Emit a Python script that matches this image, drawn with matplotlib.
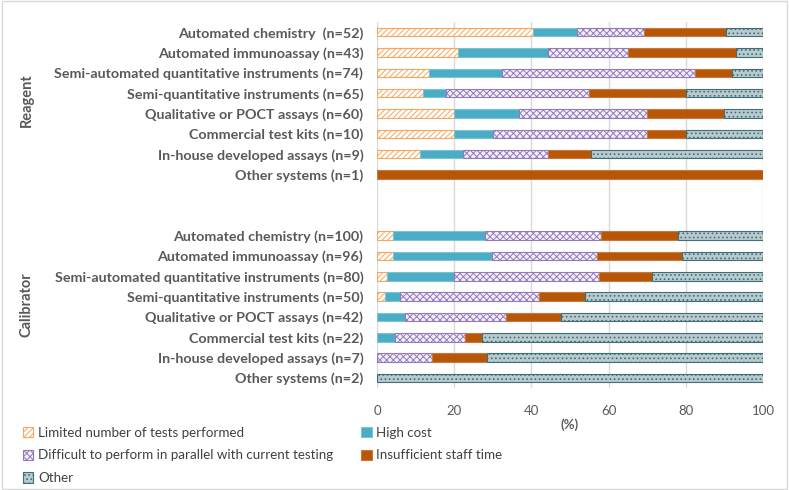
import matplotlib.pyplot as plt
import numpy as np
from matplotlib.patches import Rectangle

plt.rcParams['font.family'] = ['Lato', 'DejaVu Sans']
plt.rcParams['hatch.linewidth'] = 0.7

reagent_labels = ["Automated chemistry  (n=52)", "Automated immunoassay (n=43)",
                  "Semi-automated quantitative instruments (n=74)",
                  "Semi-quantitative instruments (n=65)", "Qualitative or POCT assays (n=60)",
                  "Commercial test kits (n=10)", "In-house developed assays (n=9)",
                  "Other systems (n=1)"]
calibrator_labels = ["Automated chemistry (n=100)", "Automated immunoassay (n=96)",
                     "Semi-automated quantitative instruments (n=80)",
                     "Semi-quantitative instruments (n=50)", "Qualitative or POCT assays (n=42)",
                     "Commercial test kits (n=22)", "In-house developed assays (n=7)",
                     "Other systems (n=2)"]

series_names = ["Limited number of tests performed", "High cost",
                "Difficult to perform in parallel with current testing",
                "Insufficient staff time", "Other"]

# percentages per reason, rows in label order
reagent_limited = [40.4, 20.9, 13.5, 11.8, 20.0, 20.0, 11.1, 0]
reagent_cost = [11.5, 23.3, 18.9, 6.1, 16.7, 10.0, 11.1, 0]
reagent_parallel = [17.3, 20.9, 50.0, 36.9, 33.3, 40.0, 22.2, 0]
reagent_staff = [21.2, 27.9, 9.5, 25.2, 20.0, 10.0, 11.1, 100]
reagent_other = [9.6, 7.0, 8.1, 20.0, 10.0, 20.0, 44.5, 0]

calib_limited = [4.0, 4.2, 2.5, 2.0, 0, 0, 0, 0]
calib_cost = [24.0, 25.6, 17.5, 4.0, 7.1, 4.5, 0, 0]
calib_parallel = [30.0, 27.1, 37.5, 36.0, 26.2, 18.2, 14.3, 0]
calib_staff = [20.0, 22.0, 13.75, 12.0, 14.3, 4.5, 14.3, 0]
calib_other = [22.0, 21.1, 28.75, 46.0, 52.4, 72.8, 71.4, 100]

styles = [
    dict(facecolor='white', edgecolor='#F9A65A', hatch='//////'),
    dict(facecolor='#4BACC6', edgecolor='#7CC3D6', hatch=None),
    dict(facecolor='#F3EFF8', edgecolor='#9479BB', hatch='xxxxx'),
    dict(facecolor='#B65708', edgecolor='#C9773A', hatch=None),
    dict(facecolor='#B9CACD', edgecolor='#3E6E7A', hatch='....'),
]

gap = [0, 0]
series = [
    reagent_limited + gap + calib_limited,
    reagent_cost + gap + calib_cost,
    reagent_parallel + gap + calib_parallel,
    reagent_staff + gap + calib_staff,
    reagent_other + gap + calib_other,
]
labels = reagent_labels + ["", ""] + calibrator_labels
y = np.arange(len(labels))

fig = plt.figure(figsize=(7.89, 4.9), dpi=100)
ax = fig.add_axes([0.478, 0.208, 0.489, 0.747])

left = np.zeros(len(labels))
handles = []
for name, vals, st in zip(series_names, series, styles):
    v = np.array(vals, dtype=float)
    keep = v > 0
    b = ax.barh(y[keep], v[keep], left=left[keep], height=0.42, linewidth=0.8,
                label=name, zorder=3, **st)
    handles.append(b)
    left = left + v

ax.set_xlim(0, 100)
ax.set_ylim(len(labels) - 0.5, -0.5)
ax.set_xticks(range(0, 101, 20))
ax.set_yticks(y)
ax.set_yticklabels(labels, fontsize=10.3, fontweight='bold', color='#595959')
ax.tick_params(axis='y', length=0, pad=10)
ax.tick_params(axis='x', length=0, labelsize=9.5, labelcolor='#595959', pad=12)
ax.grid(axis='x', color='#D9D9D9', linewidth=1, zorder=0)
for s in ax.spines.values():
    s.set_visible(False)
ax.set_xlabel("(%)", fontsize=9.5, fontweight='bold', color='#595959', labelpad=1)

fig.text(0.034, 0.795, "Reagent", rotation=90, ha='center', va='center',
         fontsize=10.5, fontweight='bold', color='#595959')
fig.text(0.034, 0.378, "Calibrator", rotation=90, ha='center', va='center',
         fontsize=10.5, fontweight='bold', color='#595959')

order = [0, 2, 4, 1, 3]
fig.legend([handles[i] for i in order], [series_names[i] for i in order],
           loc='upper left', bbox_to_anchor=(0.022, 0.14), ncol=2, frameon=False,
           fontsize=9.6, handlelength=0.8, handleheight=0.8, handletextpad=0.35,
           labelspacing=0.8, columnspacing=2.1, borderaxespad=0, labelcolor='#404040')

fig.patches.append(Rectangle((0.002, 0.002), 0.996, 0.996, transform=fig.transFigure,
                             fill=False, edgecolor='#D9D9D9', linewidth=1))

fig.savefig("out.png", dpi=100)
